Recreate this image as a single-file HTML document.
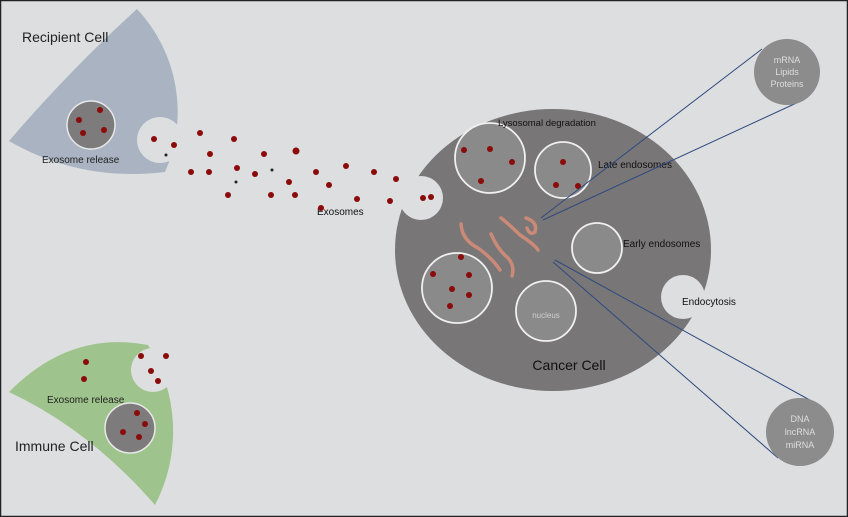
<!DOCTYPE html>
<html><head><meta charset="utf-8"><style>
html,body{margin:0;padding:0;background:#dcdedf;}
svg{display:block;}
text{font-family:"Liberation Sans",sans-serif;}
</style></head><body>
<svg width="848" height="517" viewBox="0 0 848 517" xmlns="http://www.w3.org/2000/svg">
<rect x="0.5" y="0.5" width="847" height="516" fill="#dcdedf" stroke="#222" stroke-width="1.5"/>
<!-- Recipient cell -->
<path d="M9,141 Q70,70 137,9 A150,150 0 0 1 165,172 Q80,182 9,141 Z" fill="#a9b3c1"/>
<circle cx="160" cy="140" r="23" fill="#dcdedf"/>
<circle cx="91" cy="125" r="24" fill="#7d7b7b" stroke="#e8e8e8" stroke-width="1.5"/>
<g fill="#8b0a0a">
<circle cx="100" cy="110" r="3"/><circle cx="79" cy="120" r="3"/><circle cx="104" cy="130" r="3"/><circle cx="83" cy="133" r="3"/>
</g>
<text x="22" y="42" font-size="14" fill="#222">Recipient Cell</text>
<text x="42" y="163" font-size="10" fill="#222">Exosome release</text>
<!-- Immune cell -->
<path d="M9,392 Q70,330 148,345 A160,160 0 0 1 155,505 Q90,430 9,392 Z" fill="#9fc38c"/>
<circle cx="153" cy="370" r="22" fill="#dcdedf"/>
<circle cx="130" cy="428" r="25" fill="#7d7b7b" stroke="#e8e8e8" stroke-width="1.5"/>
<g fill="#8b0a0a">
<circle cx="137" cy="413" r="3"/><circle cx="145" cy="424" r="3"/><circle cx="123" cy="432" r="3"/><circle cx="139" cy="437" r="3"/>
<circle cx="86" cy="362" r="3"/><circle cx="84" cy="379" r="3"/>
<circle cx="141" cy="356" r="3"/><circle cx="166" cy="356" r="3"/><circle cx="151" cy="371" r="3"/><circle cx="158" cy="381" r="3"/>
</g>
<text x="47" y="403" font-size="10" fill="#222">Exosome release</text>
<text x="15" y="451" font-size="14" fill="#222">Immune Cell</text>
<!-- Cancer cell -->
<ellipse cx="553" cy="250" rx="158" ry="141" fill="#787676"/>
<circle cx="421" cy="198" r="22" fill="#dcdedf"/>
<circle cx="683" cy="297" r="22" fill="#dcdedf"/>
<g fill="#8a8a8a" stroke="#f0f0f0" stroke-width="1.8">
<circle cx="490" cy="158" r="35"/><circle cx="563" cy="170" r="28"/><circle cx="597" cy="248" r="25"/><circle cx="457" cy="288" r="35"/><circle cx="546" cy="311" r="30"/>
</g>
<g fill="#8b0a0a">
<circle cx="464" cy="150" r="3"/><circle cx="490" cy="149" r="3"/><circle cx="512" cy="162" r="3"/><circle cx="481" cy="181" r="3"/>
<circle cx="563" cy="162" r="3"/><circle cx="556" cy="185" r="3"/><circle cx="578" cy="186" r="3"/>
<circle cx="461" cy="257" r="3"/><circle cx="433" cy="274" r="3"/><circle cx="469" cy="275" r="3"/><circle cx="452" cy="289" r="3"/><circle cx="469" cy="295" r="3"/><circle cx="450" cy="306" r="3"/>
<circle cx="431" cy="197" r="3"/><circle cx="423" cy="198" r="3"/>
</g>
<g fill="none" stroke="#d48c78" stroke-width="3.5" stroke-linecap="round" opacity="0.9">
<path d="M461,224 Q462,240 478,248 Q492,258 500,270"/>
<path d="M491,234 Q498,250 508,258 Q515,266 512,276"/>
<path d="M501,218 Q510,225 520,235 Q535,245 538,250"/>
<path d="M526,218 Q538,222 535,232 Q530,236 527,228"/>
</g>
<text x="498" y="126" font-size="9.5" fill="#111">Lysosomal degradation</text>
<text x="598" y="168" font-size="10" fill="#111">Late endosomes</text>
<text x="623" y="247" font-size="10" fill="#111">Early endosomes</text>
<text x="682" y="305" font-size="10" fill="#111">Endocytosis</text>
<text x="546" y="318" font-size="8" fill="#cfcfcf" text-anchor="middle">nucleus</text>
<text x="569" y="370" font-size="14" fill="#111" text-anchor="middle">Cancer Cell</text>
<text x="317" y="215" font-size="10" fill="#111">Exosomes</text>
<!-- exosome dots in transit -->
<g fill="#8b0a0a">
<circle cx="154" cy="139" r="3"/><circle cx="174" cy="145" r="3"/><circle cx="200" cy="133" r="3"/><circle cx="234" cy="139" r="3"/>
<circle cx="210" cy="154" r="3"/><circle cx="264" cy="154" r="3"/><circle cx="296" cy="151" r="3.5"/>
<circle cx="191" cy="172" r="3"/><circle cx="209" cy="172" r="3"/><circle cx="237" cy="168" r="3"/><circle cx="255" cy="174" r="3"/>
<circle cx="316" cy="172" r="3"/><circle cx="346" cy="166" r="3"/><circle cx="374" cy="172" r="3"/><circle cx="396" cy="179" r="3"/>
<circle cx="289" cy="182" r="3"/><circle cx="329" cy="185" r="3"/>
<circle cx="228" cy="195" r="3"/><circle cx="271" cy="195" r="3"/><circle cx="295" cy="195" r="3"/>
<circle cx="357" cy="199" r="3"/><circle cx="390" cy="201" r="3"/><circle cx="321" cy="208" r="3"/>
<circle cx="166" cy="155" r="1.5" fill="#222"/><circle cx="236" cy="182" r="1.5" fill="#222"/><circle cx="272" cy="170" r="1.5" fill="#222"/>
</g>
<!-- connectors -->
<g stroke="#2f4a80" stroke-width="1" fill="none">
<line x1="541" y1="218" x2="762" y2="49"/><line x1="543" y1="220" x2="803" y2="100"/>
<line x1="555" y1="260" x2="817" y2="404"/><line x1="553" y1="262" x2="778" y2="458"/>
</g>
<circle cx="787" cy="72" r="33" fill="#8c8c8c"/>
<circle cx="800" cy="432" r="34" fill="#8c8c8c"/>
<g font-size="9" fill="#dedede" text-anchor="middle">
<text x="787" y="63">mRNA</text><text x="787" y="75">Lipids</text><text x="787" y="87">Proteins</text>
<text x="800" y="422">DNA</text><text x="800" y="435">lncRNA</text><text x="800" y="448">miRNA</text>
</g>
</svg>
</body></html>
